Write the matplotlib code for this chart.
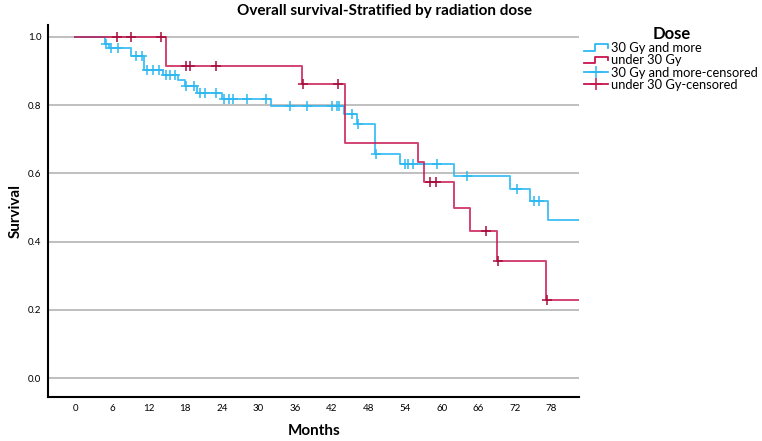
import numpy as np
import matplotlib
matplotlib.use("Agg")
import matplotlib.pyplot as plt
from matplotlib.lines import Line2D
from matplotlib.legend_handler import HandlerBase

plt.rcParams['font.family'] = ['Lato', 'DejaVu Sans']

# Kaplan-Meier steps (months, survival after the drop)
blue_times = [0, 4.8, 5.5, 9.2, 11.2, 14.4, 16.9, 17.9, 19.9, 24.1, 32.0,
              44.0, 46.1, 49.1, 53.1, 62.0, 71.2, 74.5, 77.4]
blue_surv = [1.0, 0.978, 0.967, 0.945, 0.903, 0.89, 0.873, 0.855, 0.836, 0.817, 0.798,
             0.773, 0.746, 0.656, 0.627, 0.592, 0.555, 0.52, 0.463]
blue_cens = [5.1, 5.9, 7.0, 10.0, 10.9, 11.8, 12.8, 13.7, 14.9, 15.5, 16.4,
             18.2, 19.4, 20.5, 21.3, 23.0, 24.4, 25.1, 25.9, 28.1, 31.2,
             35.1, 38.0, 42.0, 42.9, 43.2, 45.3, 46.3, 49.3, 54.0, 54.5, 55.3,
             59.2, 64.1, 72.3, 75.1, 75.9]

red_times = [0, 14.9, 37.1, 44.1, 56.2, 57.1, 62.0, 64.6, 69.1, 77.1]
red_surv = [1.0, 0.914, 0.862, 0.69, 0.633, 0.575, 0.50, 0.43, 0.345, 0.229]
red_cens = [6.9, 9.2, 14.1, 18.2, 18.8, 23.1, 37.3, 43.1, 58.1, 59.0, 67.3, 69.3, 77.3]

end_time = 82.5
x_ticks = list(range(0, 79, 6))
y_ticks = [0.0, 0.2, 0.4, 0.6, 0.8, 1.0]

BLUE = '#2DB8F2'
RED = '#C8144E'
RED_DARK = '#A80C3C'


def surv_at(times, surv, t):
    idx = np.searchsorted(times, t, side='right') - 1
    return np.array(surv)[idx]


class StepHandler(HandlerBase):
    def create_artists(self, legend, orig_handle, xdescent, ydescent, width, height, fontsize, trans):
        x0, y0 = -xdescent, -ydescent
        xs = [x0, x0 + 0.45 * width, x0 + 0.45 * width, x0 + width, x0 + width]
        ys = [y0 + 0.15 * height, y0 + 0.15 * height, y0 + 0.85 * height, y0 + 0.85 * height, y0 + 0.45 * height]
        ln = Line2D(xs, ys, color=orig_handle.get_color(), lw=1.3, transform=trans)
        return [ln]


fig = plt.figure(figsize=(7.62, 4.41), dpi=100)
ax = fig.add_axes([0.0634, 0.1005, 0.6966, 0.842])

for yv in y_ticks:
    ax.axhline(yv, color='#B4B4B4', lw=1.2, zorder=0)

bx = blue_times + [end_time]
by = blue_surv + [blue_surv[-1]]
rx = red_times + [end_time]
ry = red_surv + [red_surv[-1]]

ax.step(bx, by, where='post', color=BLUE, lw=1.4, alpha=0.85, zorder=2)
ax.step(rx, ry, where='post', color=RED, lw=1.4, alpha=0.8, zorder=3)

ax.plot(blue_cens, surv_at(blue_times, blue_surv, blue_cens), ls='none', marker='+',
        ms=7, mew=1.1, color=BLUE, zorder=4)
ax.plot(red_cens, surv_at(red_times, red_surv, red_cens), ls='none', marker='+',
        ms=7, mew=1.1, color=RED_DARK, zorder=5)

ax.set_xlim(-4.4, end_time)
ax.set_ylim(-0.054, 1.034)
ax.set_xticks(x_ticks)
ax.set_yticks(y_ticks)
ax.set_yticklabels([f'{v:.1f}' for v in y_ticks])
ax.tick_params(length=0, labelsize=7, pad=5)
for s in ['top', 'right']:
    ax.spines[s].set_visible(False)
for s in ['left', 'bottom']:
    ax.spines[s].set_linewidth(1.5)

ax.set_xlabel('Months', fontsize=11, fontweight='bold', labelpad=8)
ax.set_ylabel('Survival', fontsize=11, fontweight='bold', labelpad=4)
fig.suptitle('Overall survival-Stratified by radiation dose', x=0.505, y=0.99,
             fontsize=11, fontweight='bold')

h_blue = Line2D([], [], color=BLUE)
h_red = Line2D([], [], color=RED)
h_bc = Line2D([], [], color=BLUE, marker='+', ms=8, mew=1.1, lw=1.3)
h_rc = Line2D([], [], color=RED, marker='+', ms=8, mew=1.1, lw=1.3)
leg = fig.legend([h_blue, h_red, h_bc, h_rc],
                 ['30 Gy and more', 'under 30 Gy', '30 Gy and more-censored', 'under 30 Gy-censored'],
                 handler_map={h_blue: StepHandler(), h_red: StepHandler()},
                 loc='upper left', bbox_to_anchor=(0.755, 0.962), frameon=False,
                 title='Dose', fontsize=9.3, handlelength=1.8, handletextpad=0.3,
                 labelspacing=0.02, borderpad=0.2)
leg.get_title().set_fontweight('bold')
leg.get_title().set_fontsize(12)

fig.savefig('out.png', dpi=100)
